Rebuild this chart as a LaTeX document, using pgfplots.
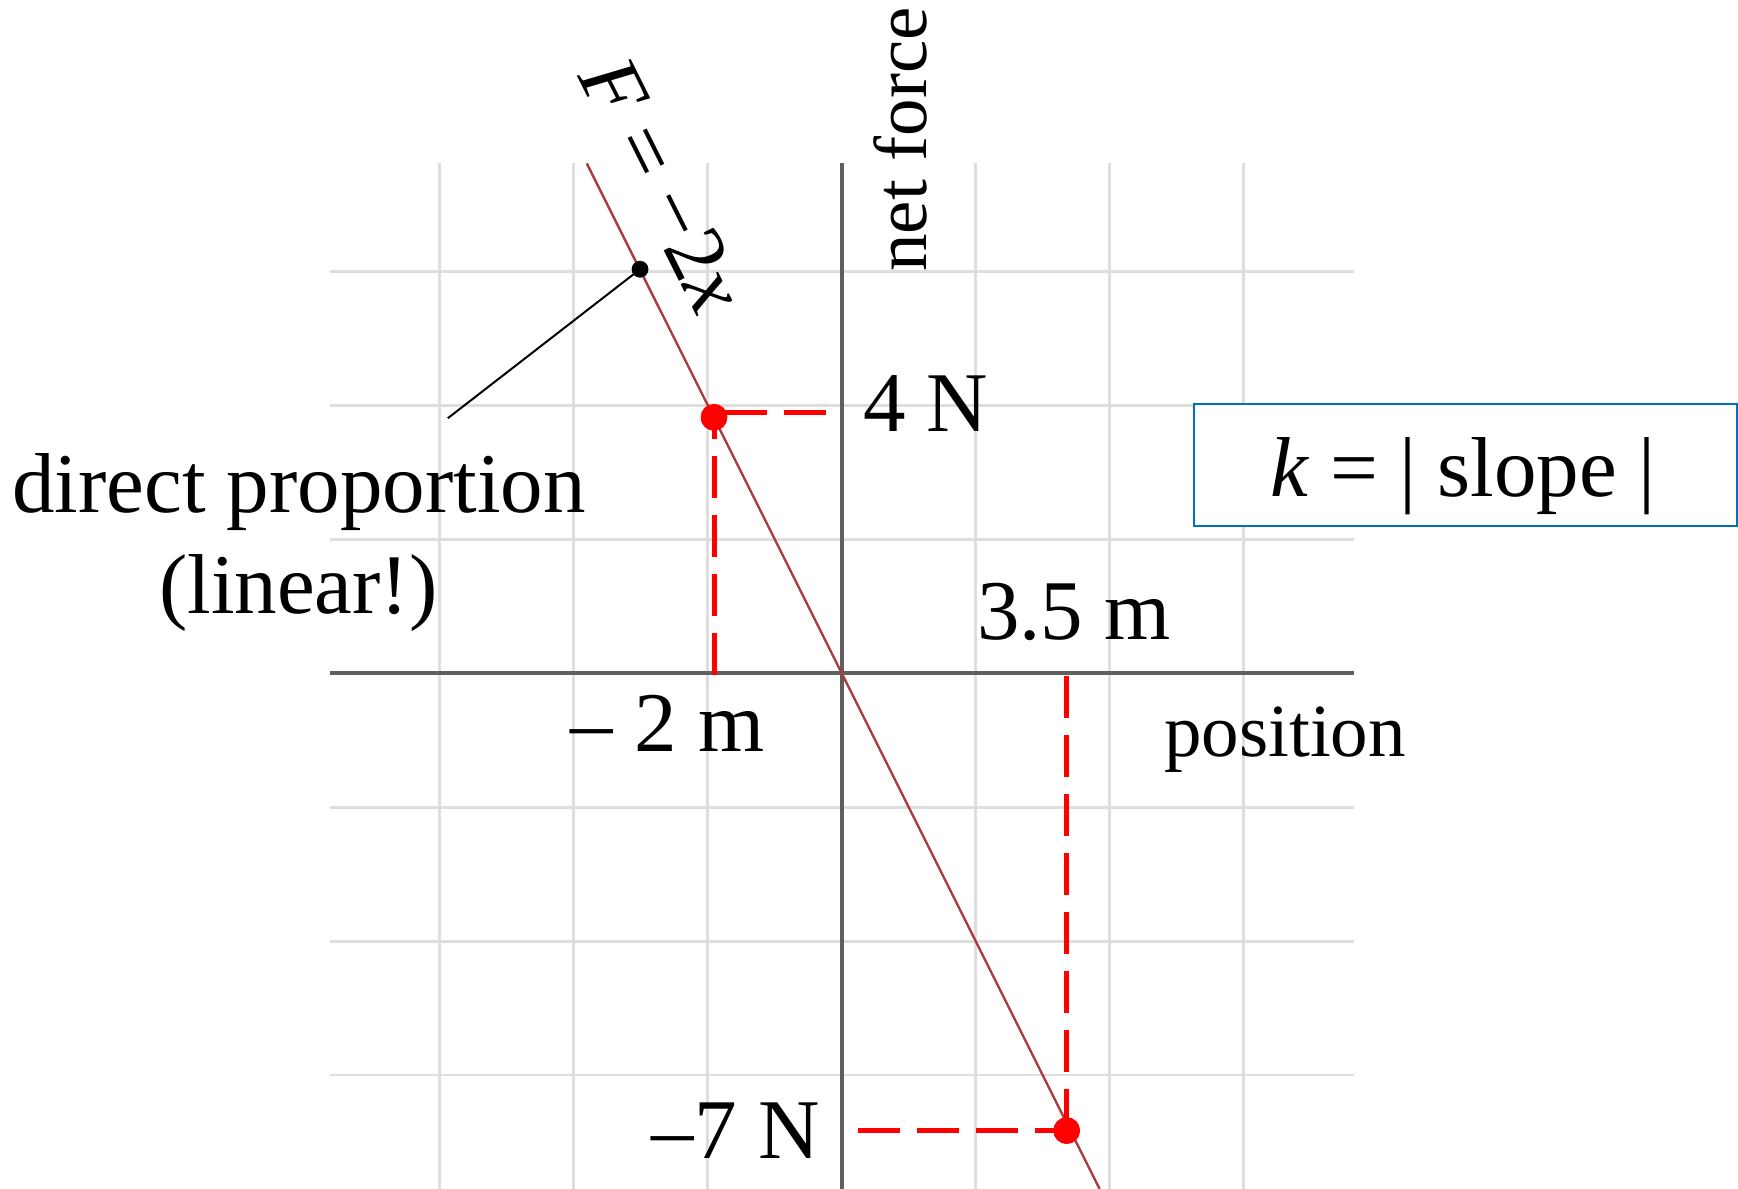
\documentclass[border=0pt]{standalone}
\usepackage{fontspec}
\setmainfont{Liberation Serif}
\usepackage{pgfplots}
\pgfplotsset{compat=1.18}
\definecolor{gridgray}{RGB}{222,222,222}
\definecolor{axisgray}{RGB}{95,95,95}
\definecolor{linered}{RGB}{170,60,60}
\definecolor{boxblue}{RGB}{0,112,192}
\newcommand{\fbig}{\fontsize{42.5}{50}\selectfont}
\newcommand{\fmid}{\fontsize{37.5}{45}\selectfont}
\begin{document}
\begin{tikzpicture}
\begin{axis}[
  scale only axis, width=512.215pt, height=512.78pt,
  xmin=-7.64, xmax=7.65, ymin=-7.697, ymax=7.61,
  axis lines=middle, axis line style={-, draw=axisgray, line width=2pt},
  xtick={-6,-4,-2,0,2,4,6}, ytick={-6,-4,-2,0,2,4,6},
  xticklabels={}, yticklabels={}, major tick length=0pt,
  grid=major, major grid style={draw=gridgray, line width=1.3pt},
  clip=false, enlargelimits=false,
]
% F = -2x
\addplot[linered, line width=1.2pt] coordinates {(-3.805,7.61) (3.849,-7.697)};
% pointer
\addplot[black, line width=1pt] coordinates {(-5.879,3.806) (-3.01,6.03)};
\addplot[only marks, mark=*, mark size=4pt, black] coordinates {(-3.01,6.03)};
% dashed guides
\addplot[red, line width=2.5pt, dash pattern=on 21pt off 8.5pt] coordinates {(-1.906,-0.02) (-1.906,3.82)};
\addplot[red, line width=2.5pt, dash pattern=on 21pt off 8.5pt] coordinates {(-1.742,3.89) (-0.2,3.89)};
\addplot[red, line width=2.5pt, dash pattern=on 21pt off 8.5pt] coordinates {(3.358,-0.04) (3.358,-6.827)};
\addplot[red, line width=2.5pt, dash pattern=on 21pt off 8.5pt] coordinates {(0.248,-6.827) (3.358,-6.827)};
\addplot[only marks, mark=*, mark size=6.5pt, red, mark options={draw=red, fill=red}] coordinates {(-1.906,3.82) (3.358,-6.827)};
% box
\draw[boxblue, line width=0.9pt, fill=white] (axis cs:5.258,2.199) rectangle (axis cs:13.358,4.019);
\node[anchor=base, inner sep=0pt, font=\fbig] at (axis cs:9.269,2.636) {\textit{k} = | slope |};
% labels
\node[rotate=-63.43, inner sep=0pt, font=\fbig] at (axis cs:-2.667,7.288) {\textit{F} = −2\textit{x}};
\node[rotate=90, anchor=base west, inner sep=0pt, font=\fmid] at (axis cs:1.273,5.99) {net force};
\node[anchor=base west, inner sep=0pt, font=\fbig] at (axis cs:0.313,3.606) {4 N};
\node[anchor=base west, inner sep=0pt, font=\fbig] at (axis cs:2.015,0.497) {3.5 m};
\node[anchor=base east, inner sep=0pt, font=\fbig] at (axis cs:-1.145,-1.170) {– 2 m};
\node[anchor=base west, inner sep=0pt, font=\fmid] at (axis cs:4.807,-1.249) {position};
\node[anchor=base east, inner sep=0pt, font=\fbig] at (axis cs:-0.324,-7.239) {–7 N};
\node[anchor=base, inner sep=0pt, font=\fbig] at (axis cs:-8.101,2.397) {direct proportion};
\node[anchor=base, inner sep=0pt, font=\fbig] at (axis cs:-8.11,0.896) {(linear!)};
\coordinate (BL) at (axis cs:-12.563,-7.697);
\coordinate (TR) at (axis cs:13.378,10.049);
\end{axis}
\pgfresetboundingbox
\path[use as bounding box] (BL) rectangle (TR);
\end{tikzpicture}
\end{document}
